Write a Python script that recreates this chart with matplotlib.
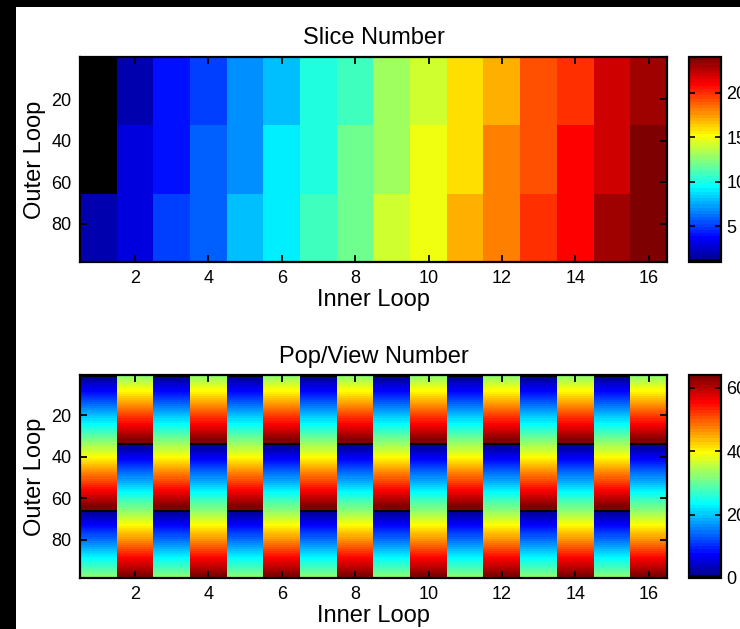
import numpy as np
import matplotlib
matplotlib.use("Agg")
import matplotlib.pyplot as plt
from matplotlib.colors import ListedColormap, Normalize
from matplotlib.patches import Rectangle

plt.rcParams['font.family'] = ['Liberation Sans', 'DejaVu Sans']

# ---------------- data ----------------
inner_ticks = [2, 4, 6, 8, 10, 12, 14, 16]
outer_ticks = [20, 40, 60, 80]

# Slice number: 3 outer-loop blocks x 16 inner-loop columns
slice_row1 = [1, 2, 4, 5, 7, 8, 10, 11, 13, 14, 16, 17, 19, 20, 22, 23]
slice_row2 = [1, 3, 4, 6, 7, 9, 10, 12, 13, 15, 16, 18, 19, 21, 22, 24]
slice_row3 = [2, 3, 5, 6, 8, 9, 11, 12, 14, 15, 17, 18, 20, 21, 23, 24]
slice_clim = [1, 24]
slice_cticks = [5, 10, 15, 20]

# Pop/View number: a counter down the outer loop, restarting every period
pop_start = [0, 32, 0, 32, 0, 32, 0, 32, 0, 32, 0, 32, 0, 32, 0, 32]
pop_period = 65
n_outer = 98
pop_clim = [0, 64]
pop_cticks = [0, 20, 40, 60]

# ---------------- colormap (MATLAB jet(64), first entry black) ----------------
def matlab_jet(m=64):
    n = int(np.ceil(m / 4))
    u = np.concatenate([np.arange(1, n + 1) / n, np.ones(n - 1), np.arange(n, 0, -1) / n])
    g = int(np.ceil(n / 2)) - (1 if m % 4 == 1 else 0) + np.arange(1, len(u) + 1)
    r = g + n
    b = g - n
    J = np.zeros((m, 3))
    for idx, col in ((r, 0), (g, 1), (b, 2)):
        ok = (idx >= 1) & (idx <= m)
        J[idx[ok] - 1, col] = u[ok]
    return J

cols = matlab_jet(64)
cols[0] = [0, 0, 0]
cmap = ListedColormap(cols)

slice_data = np.array([slice_row1, slice_row2, slice_row3], dtype=float)
rows = np.arange(n_outer)
pop_data = np.mod(np.array(pop_start)[None, :] + rows[:, None], pop_period)

# ---------------- figure ----------------
W, H = 740, 629
fig = plt.figure(figsize=(W / 100, H / 100), dpi=100, facecolor='white')

def fx(px):
    return px / W

def fy(py):
    return 1 - py / H

def style_axes(ax):
    for s in ax.spines.values():
        s.set_linewidth(1.6)
    ax.tick_params(direction='in', top=True, right=True, length=5, width=1.3,
                   labelsize=13, pad=6)

def panel(top, bottom, data, extent, clim, cticks, title):
    ax = fig.add_axes([fx(80), fy(bottom), fx(667) - fx(80), fy(top) - fy(bottom)])
    im = ax.imshow(data, cmap=cmap, norm=Normalize(clim[0], clim[1]), aspect='auto',
                   interpolation='nearest', extent=extent)
    ax.set_xlim(0.5, 16.5)
    ax.set_xticks(inner_ticks)
    ax.set_yticks(outer_ticks)
    style_axes(ax)
    ax.set_title(title, fontsize=17, pad=9)
    ax.set_xlabel('Inner Loop', fontsize=17, labelpad=1)
    ax.set_ylabel('Outer Loop', fontsize=17, labelpad=4)
    cax = fig.add_axes([fx(689), fy(bottom), fx(721) - fx(689), fy(top) - fy(bottom)])
    cb = fig.colorbar(im, cax=cax)
    cb.set_ticks(cticks)
    cb.outline.set_linewidth(1.6)
    cax.tick_params(direction='in', left=True, right=True, length=4, width=1.2,
                    labelsize=13, pad=4)
    return ax

panel(57, 262, slice_data, [0.5, 16.5, 98.5, -0.5], slice_clim, slice_cticks, 'Slice Number')
panel(375, 578, pop_data, [0.5, 16.5, n_outer + 0.5, 0.5], pop_clim, pop_cticks, 'Pop/View Number')

# black border of the original screenshot (left and top)
fig.patches.append(Rectangle((0, 0), fx(16), 1, transform=fig.transFigure,
                             facecolor='black', edgecolor='none', zorder=-1))
fig.patches.append(Rectangle((0, fy(7)), 1, 1 - fy(7), transform=fig.transFigure,
                             facecolor='black', edgecolor='none', zorder=-1))

fig.savefig('out.png', dpi=100, facecolor='white')
